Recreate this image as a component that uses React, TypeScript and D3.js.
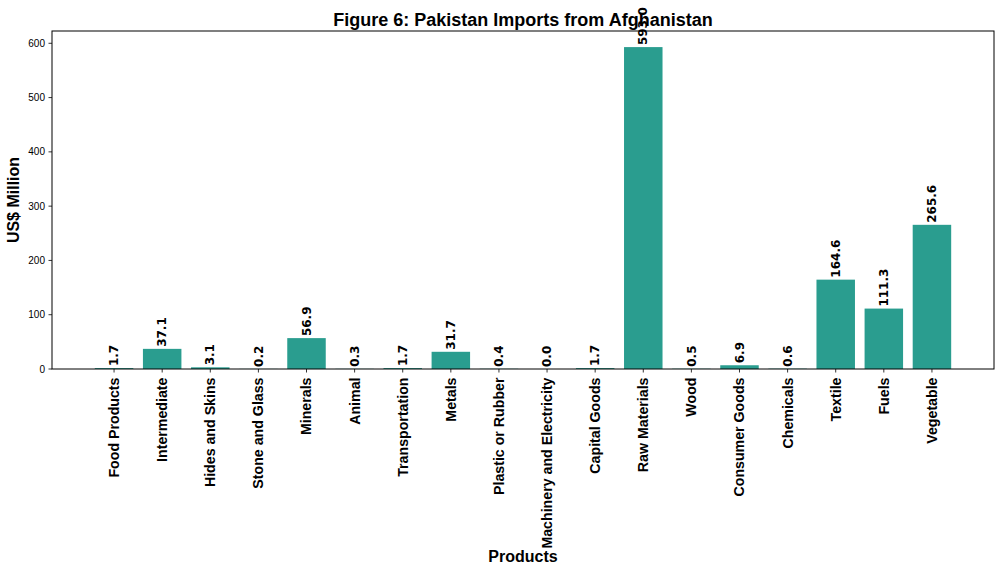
import React from "react";
import * as d3 from "d3";

const categories: string[] = [
  "Food Products", "Intermediate", "Hides and Skins", "Stone and Glass", "Minerals",
  "Animal", "Transportation", "Metals", "Plastic or Rubber", "Machinery and Electricity",
  "Capital Goods", "Raw Materials", "Wood", "Consumer Goods", "Chemicals",
  "Textile", "Fuels", "Vegetable",
];
const values: number[] = [
  1.7, 37.1, 3.1, 0.2, 56.9,
  0.3, 1.7, 31.7, 0.4, 0.0,
  1.7, 593.0, 0.5, 6.9, 0.6,
  164.6, 111.3, 265.6,
];
const yTicks: number[] = [0, 100, 200, 300, 400, 500, 600];

const W = 1000, H = 572;
const left = 52, right = 994, top = 31, bottom = 369;
const BAR = "#2a9d8f";
const SANS = "'Liberation Sans', Arial, sans-serif";
const DEJAVU = "'DejaVu Sans', sans-serif";

export default function App() {
  const n = categories.length;
  const span = (n - 1) + 0.8;
  const x = d3.scaleLinear().domain([-0.4 - 0.05 * span, n - 1 + 0.4 + 0.05 * span]).range([left, right]);
  const yMax = (d3.max(values) as number) * 1.05;
  const y = d3.scaleLinear().domain([0, yMax]).range([bottom, top]);
  const bw = x(0.8) - x(0);

  return (
    <svg width={W} height={H} style={{ position: "absolute", left: 0, top: 0, background: "#fff" }}>
      <rect x={0} y={0} width={W} height={H} fill="#fff" />
      {values.map((v, i) => (
        <rect key={i} x={x(i) - bw / 2} y={y(v)} width={bw} height={bottom - y(v)} fill={BAR} />
      ))}
      {values.map((v, i) => (
        <text key={"v" + i} transform={`translate(${x(i)},${y(v) - 2}) rotate(-90)`} dy="0.35em"
          textAnchor="start" fontFamily={DEJAVU} fontWeight="bold" fontSize={12} fill="#000">
          {v.toFixed(1)}
        </text>
      ))}
      <rect x={left} y={top} width={right - left} height={bottom - top} fill="none" stroke="#000" strokeWidth={1} />
      {yTicks.map((t) => (
        <g key={"y" + t}>
          <line x1={left - 3.5} x2={left} y1={y(t)} y2={y(t)} stroke="#000" strokeWidth={0.8} />
          <text x={left - 7} y={y(t)} dy="0.35em" textAnchor="end" fontFamily={SANS} fontSize={10} fill="#000">{t}</text>
        </g>
      ))}
      {categories.map((c, i) => (
        <g key={"x" + i}>
          <line x1={x(i)} x2={x(i)} y1={bottom} y2={bottom + 3.5} stroke="#000" strokeWidth={0.8} />
          <text transform={`translate(${x(i)},${bottom + 8.5}) rotate(-90)`} dy="0.35em" textAnchor="end"
            fontFamily={SANS} fontWeight="bold" fontSize={14.2} fill="#000">{c}</text>
        </g>
      ))}
      <text x={(left + right) / 2} y={26} textAnchor="middle" fontFamily={SANS} fontWeight="bold" fontSize={18} fill="#000">
        Figure 6: Pakistan Imports from Afghanistan
      </text>
      <text transform={`translate(19,${(top + bottom) / 2}) rotate(-90)`} textAnchor="middle" fontFamily={SANS}
        fontWeight="bold" fontSize={16} fill="#000">US$ Million</text>
      <text x={(left + right) / 2} y={562} textAnchor="middle" fontFamily={SANS} fontWeight="bold" fontSize={16} fill="#000">
        Products
      </text>
    </svg>
  );
}
